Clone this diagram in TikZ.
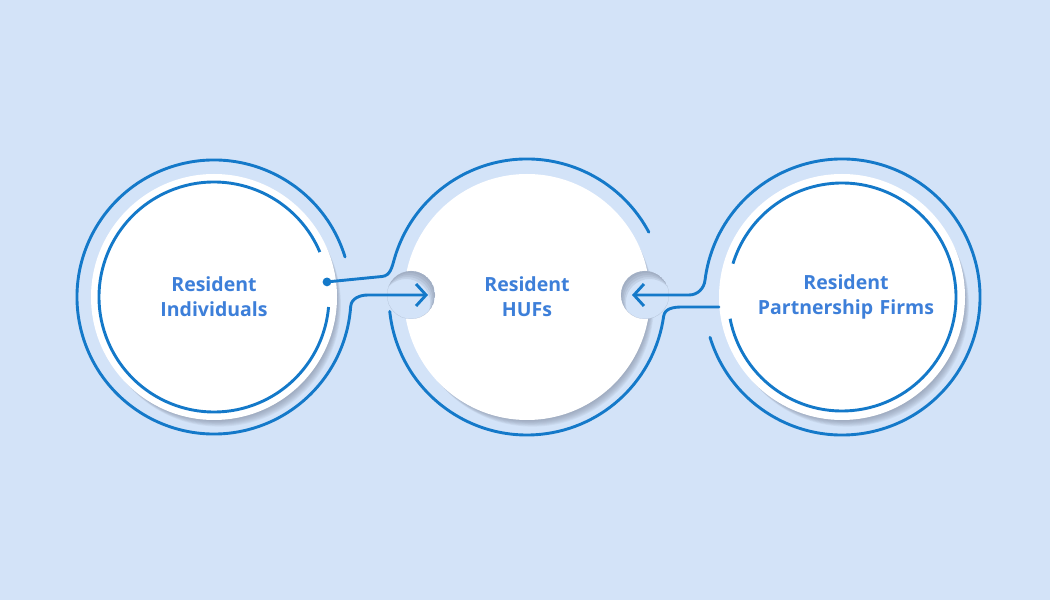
\documentclass[tikz,border=0pt]{standalone}
\usepackage{fontspec}
\setmainfont{Open Sans}
\usetikzlibrary{arrows.meta,calc}
\definecolor{bg}{HTML}{D3E3F8}
\definecolor{ring}{HTML}{1479C9}
\definecolor{txt}{HTML}{3D7FD9}
\definecolor{shd}{HTML}{7D879C}
\begin{document}
\begin{tikzpicture}[x=1pt,y=1pt,
  disk/.style={circle, fill=white, minimum size=246pt, inner sep=0pt,
    font=\bfseries\fontsize{19.5}{25}\selectfont, text=txt, align=center},
  ringline/.style={draw=ring, line width=2.9pt},
  conn/.style={ringline, line cap=round},
  arr/.style={conn, -{Straight Barb[length=10pt,width=22pt]}},
  shadowlayer/.style={fill=shd, opacity=0.1},
  notchfill/.style={fill=bg},
  notchshade/.style={fill=shd, opacity=0.18, even odd rule}]
\fill[bg] (0,0) rectangle (1050,600);
\useasboundingbox (0,0) rectangle (1050,600);

\coordinate (p1) at (214,303);
\coordinate (p2) at (527,303);
\coordinate (p3) at (842,303);

% soft shadows
\foreach \p in {p1,p2,p3}{
  \foreach \i in {1,...,9}{
    \fill[shadowlayer] ($(\p)+(\i*0.6,-\i*0.9)$) circle (121.5);
  }
}

% white disks
\node[disk] (c1) at (p1) {Resident\\Individuals};
\node[disk] (c2) at (p2) {Resident\\HUFs};
\node[disk, text width=200pt] (c3) at (p3) {\hspace*{8pt}Resident\\\hspace*{8pt}Partnership Firms};

% notches in the middle disk
\coordinate (n1) at (411,305);
\coordinate (n2) at (645,305);
\fill[notchfill] (n1) circle (24);
\fill[notchfill] (n2) circle (24);
\begin{scope}
  \clip (n1) circle (24);
  \foreach \d in {2,4,6,8}{
    \fill[notchshade] (n1) circle (24) ($(n1)+(-\d*0.6,-\d)$) circle (24);
  }
\end{scope}
\begin{scope}
  \clip (n2) circle (24);
  \foreach \d in {2,4,6,8}{
    \fill[notchshade] (n2) circle (24) ($(n2)+(\d*0.6,-\d)$) circle (24);
  }
\end{scope}

% inner rings
\draw[ringline] ($(c1.center)+(23:115)$) arc[start angle=23, end angle=355, radius=115];
\draw[ringline] ($(c3.center)+(191:114)$) arc[start angle=191, end angle=523, radius=114];

% left outer ring -> arrow into HUF
\draw[arr] ($(c1.center)+(17:137)$) arc[start angle=17, end angle=356, radius=137]
  to[out=86, in=180] (368,305) -- ($(n1)+(17,0)$);
% dot -> HUF upper outer arc
\coordinate (dot) at ($(c1.center)+(7.6:114)$);
\draw[conn] (dot) -- (382,323.5) to[out=5, in=254] ($(c2.center)+(164:138)$)
  arc[start angle=164, end angle=28, radius=138];
% HUF lower outer arc -> right disk
\draw[conn] ($(c2.center)+(186:138)$) arc[start angle=186, end angle=352, radius=138]
  to[out=82, in=180] (682,293) -- (c3.west |- 0,293);
% right outer ring -> arrow into HUF
\draw[arr] ($(c3.center)+(-163:138)$) arc[start angle=-163, end angle=173, radius=138]
  to[out=263, in=0] (689,305) -- ($(n2)+(-13,0)$);
\fill[ring] (dot) circle (4.4);
\end{tikzpicture}
\end{document}
